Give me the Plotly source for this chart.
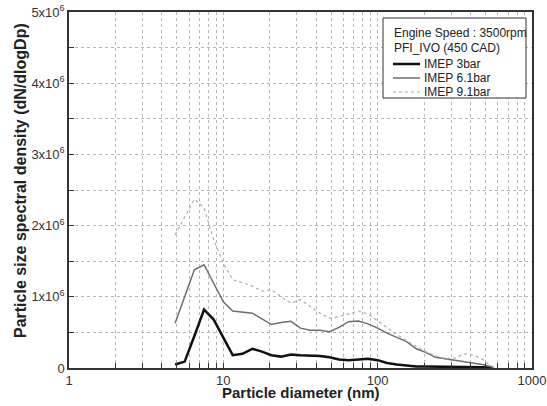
import plotly.graph_objects as go

# Particle diameter channels (nm)
diameter_nm = [4.87, 5.62, 6.49, 7.50, 8.66, 10.0, 11.5, 13.3, 15.4, 17.8,
               20.5, 23.7, 27.4, 31.6, 36.5, 42.2, 48.7, 56.2, 64.9, 75.0,
               86.6, 100, 115, 133, 154, 178, 205, 237, 274, 316,
               365, 422, 487, 562]

# dN/dlogDp (particles)
imep_3bar = [0.05e6, 0.09e6, 0.45e6, 0.82e6, 0.68e6, 0.43e6, 0.18e6, 0.20e6, 0.27e6, 0.23e6,
             0.18e6, 0.16e6, 0.19e6, 0.18e6, 0.18e6, 0.17e6, 0.15e6, 0.12e6, 0.11e6, 0.12e6,
             0.13e6, 0.11e6, 0.07e6, 0.05e6, 0.03e6, 0.02e6, 0.02e6, 0.02e6, 0.02e6, 0.02e6,
             0.02e6, 0.015e6, 0.01e6, 0.0]
imep_6_1bar = [0.63e6, 1.00e6, 1.38e6, 1.45e6, 1.19e6, 0.93e6, 0.80e6, 0.79e6, 0.77e6, 0.69e6,
               0.61e6, 0.64e6, 0.655e6, 0.56e6, 0.53e6, 0.53e6, 0.51e6, 0.57e6, 0.65e6, 0.66e6,
               0.62e6, 0.56e6, 0.49e6, 0.43e6, 0.37e6, 0.27e6, 0.22e6, 0.15e6, 0.13e6, 0.11e6,
               0.095e6, 0.07e6, 0.045e6, 0.01e6]
imep_9_1bar = [1.87e6, 2.11e6, 2.37e6, 2.25e6, 1.80e6, 1.47e6, 1.24e6, 1.20e6, 1.15e6, 1.08e6,
               1.10e6, 1.00e6, 0.91e6, 0.96e6, 0.87e6, 0.77e6, 0.70e6, 0.72e6, 0.76e6, 0.80e6,
               0.76e6, 0.66e6, 0.57e6, 0.47e6, 0.38e6, 0.30e6, 0.23e6, 0.17e6, 0.13e6, 0.14e6,
               0.20e6, 0.18e6, 0.11e6, 0.01e6]

series_names = ["IMEP 3bar", "IMEP 6.1bar", "IMEP 9.1bar"]
legend_title_lines = ["Engine Speed : 3500rpm", "PFI_IVO (450 CAD)"]

# Tick labels
x_tick_vals = [1, 10, 100, 1000]
x_tick_text = ["1", "10", "100", "1000"]
y_tick_vals = [0, 1e6, 2e6, 3e6, 4e6, 5e6]
y_tick_text = ["0", "1x10<sup>6</sup>", "2x10<sup>6</sup>",
               "3x10<sup>6</sup>", "4x10<sup>6</sup>", "5x10<sup>6</sup>"]

FONT = "Liberation Sans, Arial, sans-serif"
GRID = "#b8b8b8"
AXC = "#333333"
TXT = "#222222"

line_styles = [
    dict(color="#111111", width=2.5),
    dict(color="#6e6e6e", width=1.5),
    dict(color="#adadad", width=1.2, dash="dot"),
]
series_values = [imep_3bar, imep_6_1bar, imep_9_1bar]

L, R, T, B = 69, 15, 12, 38
W, H = 547, 406
pw = W - L - R
ph = H - T - B


def px_x(x):
    return (x - L) / pw


def px_y(y):
    return (H - B - y) / ph


fig = go.Figure()
for name, vals, st in zip(series_names, series_values, line_styles):
    fig.add_trace(go.Scatter(x=diameter_nm, y=vals, mode="lines", name=name,
                             line=st, showlegend=False))

# Legend box drawn by hand (compact, as in the reference)
shapes = [dict(type="rect", xref="paper", yref="paper",
               x0=px_x(383), x1=px_x(526), y0=px_y(98), y1=px_y(18),
               line=dict(color=AXC, width=1), fillcolor="white", layer="above")]
annotations = []
for i, t in enumerate(legend_title_lines):
    annotations.append(dict(text=t, xref="paper", yref="paper",
                            x=px_x(392), y=px_y(33 + 14.5 * i),
                            xanchor="left", yanchor="middle", showarrow=False,
                            font=dict(size=12, color=TXT)))
for i, (name, st) in enumerate(zip(series_names, line_styles)):
    yy = 64 + 14 * i
    shapes.append(dict(type="line", xref="paper", yref="paper",
                       x0=px_x(393), x1=px_x(420), y0=px_y(yy), y1=px_y(yy),
                       line=st, layer="above"))
    annotations.append(dict(text=name, xref="paper", yref="paper",
                            x=px_x(422), y=px_y(yy),
                            xanchor="left", yanchor="middle", showarrow=False,
                            font=dict(size=12, color=TXT)))

annotations += [
    dict(text="<b>Particle size spectral density (dN/dlogDp)</b>",
         xref="paper", yref="paper",
         x=px_x(20), y=px_y(181),
         xanchor="center", yanchor="middle", textangle=-90,
         showarrow=False, font=dict(size=16, color=TXT)),
    dict(text="<b>Particle diameter (nm)</b>",
         xref="paper", yref="paper",
         x=0.5, y=px_y(392),
         xanchor="center", yanchor="middle",
         showarrow=False, font=dict(size=15, color=TXT)),
]

fig.update_layout(
    width=W, height=H,
    margin=dict(l=L, r=R, t=T, b=B, autoexpand=False),
    paper_bgcolor="white", plot_bgcolor="white",
    font=dict(family=FONT, size=13, color=AXC),
    showlegend=False,
    xaxis=dict(
        type="log", range=[0, 3],
        tickmode="array", tickvals=x_tick_vals, ticktext=x_tick_text,
        ticks="inside", ticklen=5, tickcolor=AXC, tickwidth=1,
        showgrid=True, gridcolor=GRID, gridwidth=1, griddash="dot",
        minor=dict(dtick="D1", ticks="inside", ticklen=5, tickcolor=AXC,
                   showgrid=True, gridcolor=GRID, gridwidth=1, griddash="dot"),
        showline=True, linecolor=AXC, linewidth=1.5, mirror=True,
        zeroline=False,
        tickfont=dict(size=13, color=AXC),
    ),
    yaxis=dict(
        range=[0, 5e6],
        tickmode="array", tickvals=y_tick_vals, ticktext=y_tick_text,
        ticks="inside", ticklen=5, tickcolor=AXC, tickwidth=1,
        showgrid=True, gridcolor=GRID, gridwidth=1, griddash="dot",
        minor=dict(dtick=0.5e6, ticks="inside", ticklen=5, tickcolor=AXC,
                   showgrid=True, gridcolor=GRID, gridwidth=1, griddash="dot"),
        showline=True, linecolor=AXC, linewidth=1.5, mirror=True,
        zeroline=False,
        tickfont=dict(size=13, color=AXC),
    ),
    shapes=shapes,
    annotations=annotations,
)

fig.write_html("out.html", config={"displayModeBar": False},
               post_script="document.body.style.margin='0';document.body.style.padding='0';")
